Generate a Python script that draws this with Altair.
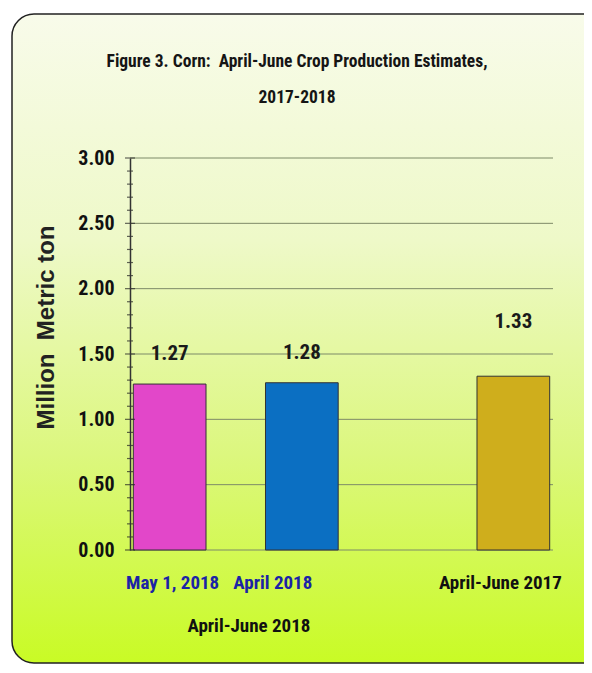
import altair as alt
import pandas as pd

# ---- data ----
categories = ["May 1, 2018", "April 2018", "April-June 2017"]
values = [1.27, 1.28, 1.33]
bar_colors = ["#e247c9", "#0b6fc2", "#cfae1c"]
group_label = "April-June 2018"
title_line1 = "Figure 3. Corn:\u00a0\u00a0April-June Crop Production Estimates,"
title_line2 = "2017-2018"
y_title = "Million\u00a0\u00a0Metric ton"
y_major = [0.0, 0.5, 1.0, 1.5, 2.0, 2.5, 3.0]
y_minor = [0.1, 0.2, 0.3, 0.4, 0.6, 0.7, 0.8, 0.9, 1.1, 1.2, 1.3, 1.4,
           1.6, 1.7, 1.8, 1.9, 2.1, 2.2, 2.3, 2.4, 2.6, 2.7, 2.8, 2.9]

# x scale layout: 16 equal slots, blank spacers reproduce the uneven spacing
N_SLOTS = 16
slots = [" " * (i + 1) for i in range(N_SLOTS)]
slots[1] = categories[0]
slots[6] = categories[1]
slots[14] = categories[2]
group_slot = slots[4]

NARROW = "Roboto Condensed, Liberation Sans Narrow, Roboto, Liberation Sans"
WIDE = "Liberation Sans, Arial, DejaVu Sans"
W, H = 423, 392

bars_df = pd.DataFrame({"cat": categories, "value": values})
grid_df = pd.DataFrame({"g": y_major})
major_df = pd.DataFrame({"t": y_major})
minor_df = pd.DataFrame({"t": y_minor})
group_df = pd.DataFrame({"slot": [group_slot], "label": [group_label]})
one_df = pd.DataFrame({"a": [0]})

yscale = alt.Scale(domain=[0, 3], nice=False, zero=True)
xscale = alt.Scale(domain=slots, paddingInner=0, paddingOuter=0)

background = alt.Chart(one_df).mark_rect(
    cornerRadius=22,
    stroke="#222222",
    strokeWidth=1.5,
    fill=alt.LinearGradient(
        gradient="linear", x1=0, y1=0, x2=0, y2=1,
        stops=[
            alt.GradientStop(color="#f8fbea", offset=0),
            alt.GradientStop(color="#eef9c8", offset=0.35),
            alt.GradientStop(color="#dcf77e", offset=0.68),
            alt.GradientStop(color="#c9fb25", offset=1),
        ],
    ),
).encode(
    x=alt.value(-118), x2=alt.value(480), y=alt.value(-144), y2=alt.value(505)
)

grid = alt.Chart(grid_df).mark_rule(color="#7d8a68", strokeWidth=1).encode(
    y=alt.Y("g:Q", scale=yscale),
    x=alt.value(0), x2=alt.value(W),
)

bars = alt.Chart(bars_df).mark_bar(
    stroke="#333333", strokeWidth=1, width=alt.RelativeBandSize(2.75)
).encode(
    x=alt.X(
        "cat:N", scale=xscale, sort=slots,
        axis=alt.Axis(
            title=None, domain=False, ticks=False, grid=False, labelAngle=0,
            labelFont=NARROW, labelFontSize=19, labelFontWeight="bold",
            labelColor={"expr": "datum.value == 'April-June 2017' ? '#111111' : '#1b23a6'"},
            labelOffset={"expr": "datum.value == 'April 2018' ? -29 : datum.value == 'April-June 2017' ? -13 : 3"},
            labelPadding=23, labelOverlap=False, labelLimit=300, zindex=1,
        ),
    ),
    y=alt.Y(
        "value:Q", scale=yscale,
        axis=alt.Axis(
            values=y_major, format=".2f", grid=False, ticks=False,
            domain=True, domainColor="#333333", domainWidth=1.5,
            labelFont=NARROW, labelFontSize=20, labelFontWeight="bold",
            labelColor="#111111", labelPadding=16,
            title=y_title, titleFont=WIDE, titleFontSize=24, titleFontWeight="bold",
            titleColor="#222222", titleX=-84, titleY=169, titleAngle=270,
            titleAlign="center", titleBaseline="middle", zindex=1,
        ),
    ),
    color=alt.Color("cat:N", scale=alt.Scale(domain=categories, range=bar_colors), legend=None),
)

ticks_major = alt.Chart(major_df).mark_tick(orient="horizontal", size=10, thickness=1.2, color="#222222").encode(
    y=alt.Y("t:Q", scale=yscale), x=alt.value(0)
)
ticks_minor = alt.Chart(minor_df).mark_tick(orient="horizontal", size=6, thickness=1.2, color="#222222").encode(
    y=alt.Y("t:Q", scale=yscale), x=alt.value(0)
)

label_style = dict(font=NARROW, fontSize=21, fontWeight="bold", color="#1a1a1a",
                   align="center", baseline="middle")
labels_a = alt.Chart(bars_df).transform_filter(
    alt.datum.cat != "April-June 2017"
).mark_text(dy=-30, **label_style).encode(
    x=alt.X("cat:N", scale=xscale),
    y=alt.Y("value:Q", scale=yscale),
    text=alt.Text("value:Q", format=".2f"),
)
labels_b = alt.Chart(bars_df).transform_filter(
    alt.datum.cat == "April-June 2017"
).mark_text(dy=-54, **label_style).encode(
    x=alt.X("cat:N", scale=xscale),
    y=alt.Y("value:Q", scale=yscale),
    text=alt.Text("value:Q", format=".2f"),
)

group_text = alt.Chart(group_df).mark_text(
    font=NARROW, fontSize=19, fontWeight="bold", color="#111111",
    align="center", baseline="alphabetic",
).encode(
    x=alt.X("slot:N", scale=xscale),
    y=alt.value(474),
    text="label:N",
)

title_style = dict(font=NARROW, fontSize=17.5, fontWeight="bold", color="#151515",
                   align="center", baseline="alphabetic")
title1 = alt.Chart(one_df).mark_text(**title_style).encode(
    x=alt.value(167), y=alt.value(-91), text=alt.value(title_line1)
)
title2 = alt.Chart(one_df).mark_text(**title_style).encode(
    x=alt.value(167), y=alt.value(-55), text=alt.value(title_line2)
)

chart = alt.layer(
    background, grid, bars, ticks_major, ticks_minor,
    labels_a, labels_b, group_text, title1, title2,
).properties(
    width=W, height=H,
    autosize=alt.AutoSizeParams(type="none"),
    padding={"left": 122, "top": 150, "right": 31, "bottom": 115},
    background="white",
).configure_view(stroke=None)

chart.save("out.html", embed_options={"renderer": "svg", "actions": False})
